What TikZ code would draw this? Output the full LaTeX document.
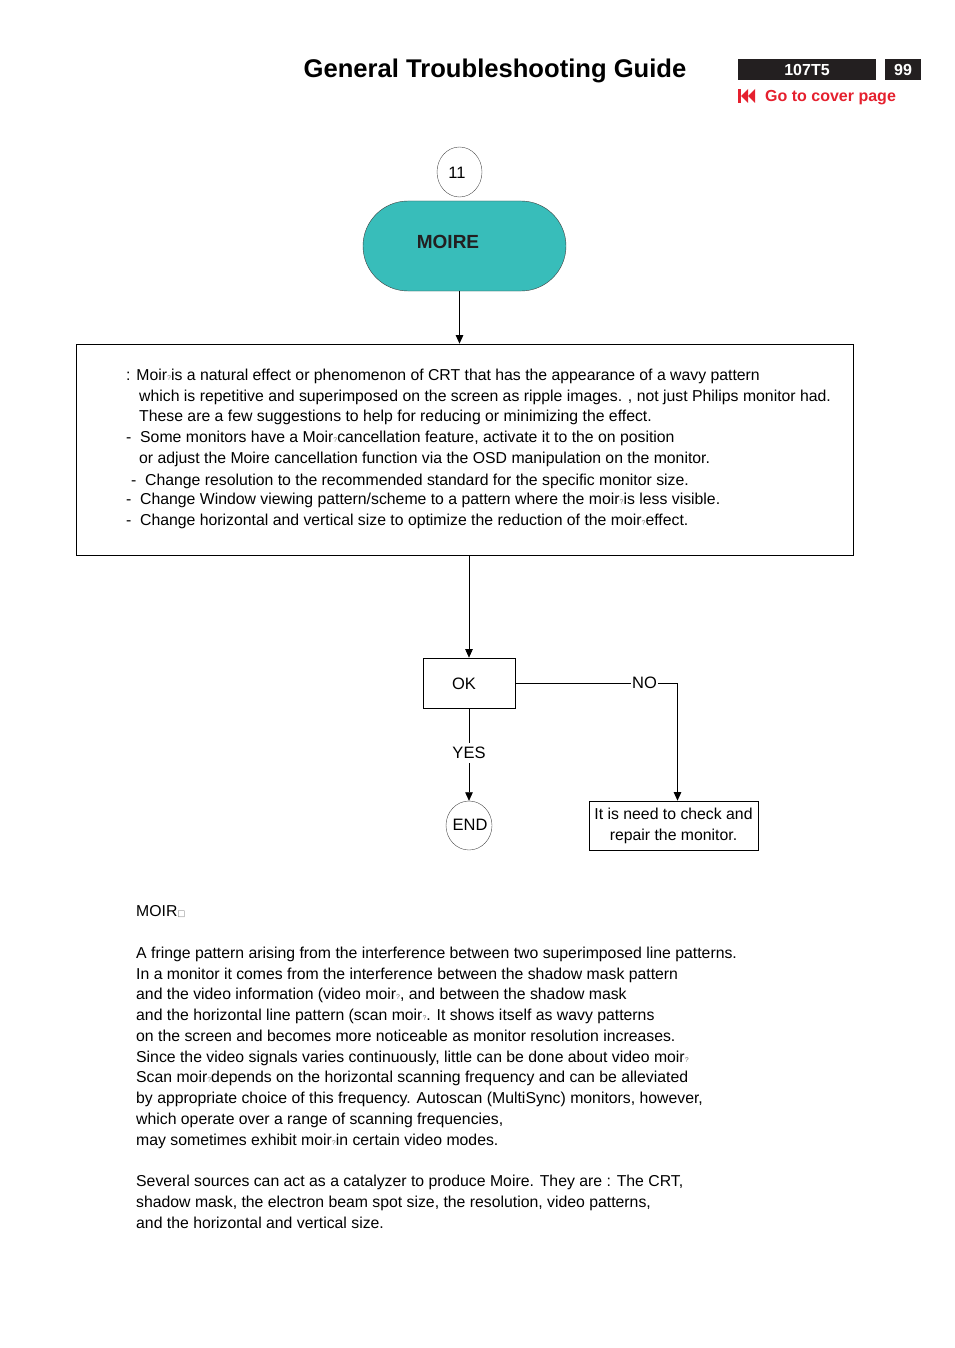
\documentclass[tikz,border=0pt]{standalone}
\usepackage{fontspec}
\setmainfont{Liberation Sans}
\newfontfamily\dejavu{DejaVu Sans}
\usetikzlibrary{arrows.meta,shapes.geometric}
\definecolor{moireteal}{HTML}{38BDBA}
\definecolor{coverred}{HTML}{E5202E}
\definecolor{hdrblack}{HTML}{231F20}
\newcommand{\mq}{{\fontsize{7}{7}\selectfont\textcolor{black!55}{?}}}
\begin{document}
\begin{tikzpicture}[x=1pt,y=-1pt,
  txt/.style={anchor=base west,inner sep=0pt,font=\fontsize{15.8}{18}\selectfont},
  arr/.style={-{Triangle[length=8.5pt,width=7.5pt]},line width=0.7pt},
  ln/.style={line width=0.7pt},
  thin circle/.style={ellipse,draw=black!70,line width=0.4pt,inner sep=0pt},
  lbl/.style={inner sep=0pt,font=\fontsize{16.5}{18}\selectfont},
  plainbox/.style={draw,line width=0.7pt,inner sep=0pt},
  hdrbox/.style={fill=hdrblack,text=white,inner sep=0pt,font=\bfseries\fontsize{16}{18}\selectfont}
]
\useasboundingbox (0,0) rectangle (954,1348);

% header
\node[anchor=center,inner sep=0pt,font=\bfseries\fontsize{25.6}{28}\selectfont] (title) at (495,70.5) {General Troubleshooting Guide};
\node[hdrbox,minimum width=138pt,minimum height=21pt] (model) at (807,69.5) {107T5};
\node[hdrbox,minimum width=36pt,minimum height=21pt] (page) at (903,69.5) {99};
\fill[coverred] (738,89) rectangle (741,103);
\fill[coverred] (741,96) -- (748,89) -- (748,103) -- cycle;
\fill[coverred] (748,96) -- (755,89) -- (755,103) -- cycle;
\node[anchor=west,inner sep=0pt,text=coverred,font=\bfseries\fontsize{16}{18}\selectfont] (cover) at (765,97.5) {Go to cover page};

% top of flow
\node[thin circle,minimum width=45pt,minimum height=50pt] (c11) at (459.5,172) {};
\node[lbl] (c11t) at (457,172.5) {11};
\node[draw=black!75,fill=moireteal,line width=0.4pt,rounded corners=45pt,minimum width=203pt,minimum height=90pt,inner sep=0pt] (moire) at (464.5,246) {};
\node[inner sep=0pt,text=hdrblack,font=\bfseries\fontsize{19}{22}\selectfont] (moiret) at (448,242) {MOIRE};

\node[plainbox,minimum width=777pt,minimum height=211pt] (box) at (464.5,449.5) {};
\draw[arr] (moire.south -| c11) -- (box.north -| c11);

\node[txt] (l1) at (126,380) {: Moir\mq is a natural effect or phenomenon of CRT that has the appearance of a wavy pattern};
\node[txt] (l2) at (139,401) {which is repetitive and superimposed on the screen as ripple images. , not just Philips monitor had.};
\node[txt] (l3) at (139,421) {These are a few suggestions to help for reducing or minimizing the effect.};
\node[txt] (l4) at (126,442) {\makebox[14pt][l]{-}Some monitors have a Moir\mq cancellation feature, activate it to the on position};
\node[txt] (l5) at (139,463) {or adjust the Moire cancellation function via the OSD manipulation on the monitor.};
\node[txt] (l6) at (131,485) {\makebox[14pt][l]{-}Change resolution to the recommended standard for the specific monitor size.};
\node[txt] (l7) at (126,504) {\makebox[14pt][l]{-}Change Window viewing pattern/scheme to a pattern where the moir\mq is less visible.};
\node[txt] (l8) at (126,525) {\makebox[14pt][l]{-}Change horizontal and vertical size to optimize the reduction of the moir\mq effect.};

% decision
\node[plainbox,minimum width=92pt,minimum height=50pt] (ok) at (469,683) {};
\node[lbl] (okt) at (464,683.5) {OK};
\draw[arr] (box.south -| ok) -- (ok.north);
\node[lbl,inner sep=1pt] (no) at (644.5,683) {NO};
\coordinate (nc) at (677.5,683);
\node[plainbox,minimum width=169pt,minimum height=49pt,align=center,font=\fontsize{15.8}{21}\selectfont] (rep) at (673.5,825.5) {It is need to check and\\repair the monitor.};
\draw[ln] (ok.east) -- (no.west);
\draw[ln] (no.east) -- (nc);
\draw[arr] (nc) -- (nc |- rep.north);

\node[lbl,inner sep=4pt] (yes) at (469,753) {YES};
\node[thin circle,minimum width=46pt,minimum height=49pt] (end) at (469,825.5) {};
\node[lbl] (endt) at (470,824.5) {END};
\draw[ln] (ok.south) -- (yes.north);
\draw[arr] (yes.south) -- (end.north);

% description
\node[txt] (h1) at (136,916) {MOIR{\dejavu\fontsize{8.5}{8}\selectfont\textcolor{gray}{□}}};
\node[txt] (p1) at (136,958) {A fringe pattern arising from the interference between two superimposed line patterns.};
\node[txt] (p2) at (136,979) {In a monitor it comes from the interference between the shadow mask pattern};
\node[txt] (p3) at (136,999) {and the video information (video moir\mq, and between the shadow mask};
\node[txt] (p4) at (136,1020) {and the horizontal line pattern (scan moir\mq. It shows itself as wavy patterns};
\node[txt] (p5) at (136,1041) {on the screen and becomes more noticeable as monitor resolution increases.};
\node[txt] (p6) at (136,1062) {Since the video signals varies continuously, little can be done about video moir\mq};
\node[txt] (p7) at (136,1082) {Scan moir\mq depends on the horizontal scanning frequency and can be alleviated};
\node[txt] (p8) at (136,1103) {by appropriate choice of this frequency. Autoscan (MultiSync) monitors, however,};
\node[txt] (p9) at (136,1124) {which operate over a range of scanning frequencies,};
\node[txt] (p10) at (136,1145) {may sometimes exhibit moir\mq in certain video modes.};
\node[txt] (q1) at (136,1186) {Several sources can act as a catalyzer to produce Moire. They are : The CRT,};
\node[txt] (q2) at (136,1207) {shadow mask, the electron beam spot size, the resolution, video patterns,};
\node[txt] (q3) at (136,1228) {and the horizontal and vertical size.};
\end{tikzpicture}
\end{document}
